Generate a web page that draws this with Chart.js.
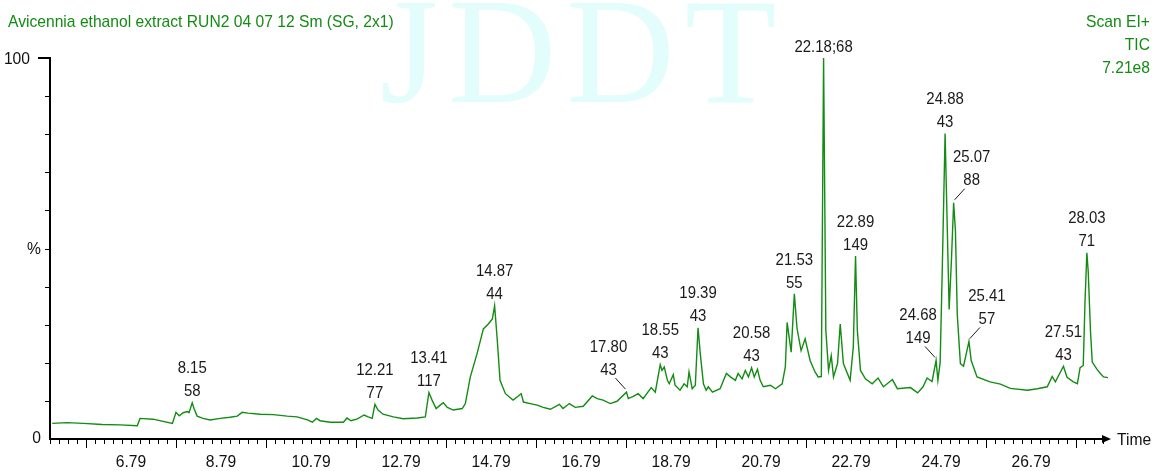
<!DOCTYPE html>
<html>
<head>
<meta charset="utf-8">
<script src="https://cdn.jsdelivr.net/npm/chart.js@4/dist/chart.umd.min.js"></script>
<style>
html,body{margin:0;padding:0;background:#fff;}
#divid{width:1152px;height:471px;position:relative;}
</style>
</head>
<body>
<div id="divid"><canvas id="chart" width="1152" height="471"></canvas></div>
<script>
const titulo = "Avicennia ethanol extract RUN2 04 07 12 Sm (SG, 2x1)"
const infoDerecha = ["Scan EI+", "TIC", "7.21e8"]
const marcaAgua = "JDDT"
const ejeX = "Time"

// TIC trace (time in min, intensity in %)
const tiempos = [5.04,5.37,5.73,6.15,6.55,6.93,6.99,7.28,7.71,7.79,
  7.86,7.95,8.04,8.08,8.15,8.19,8.26,8.39,8.55,8.77,
  8.99,9.15,9.26,9.39,9.66,9.95,10.26,10.48,10.71,10.82,
  10.91,10.99,11.22,11.51,11.59,11.68,11.82,11.97,12.06,12.15,
  12.21,12.28,12.39,12.62,12.84,13.15,13.33,13.41,13.48,13.57,
  13.66,13.73,13.82,13.95,14.15,14.22,14.33,14.48,14.62,14.73,
  14.82,14.87,14.93,14.99,15.11,15.28,15.39,15.46,15.51,15.66,
  15.82,15.95,16.11,16.31,16.39,16.53,16.66,16.84,17.04,17.15,
  17.28,17.44,17.59,17.80,17.84,17.95,18.06,18.17,18.35,18.44,
  18.55,18.59,18.64,18.71,18.75,18.84,18.88,18.99,19.08,19.15,
  19.19,19.26,19.33,19.39,19.44,19.51,19.57,19.62,19.71,19.88,
  20.02,20.11,20.22,20.28,20.37,20.44,20.51,20.58,20.64,20.71,
  20.77,20.84,21.00,21.11,21.26,21.33,21.37,21.46,21.53,21.59,
  21.68,21.77,21.88,21.99,22.06,22.13,22.18,22.23,22.29,22.35,
  22.40,22.49,22.55,22.62,22.77,22.84,22.89,22.93,23.00,23.11,
  23.26,23.39,23.51,23.71,23.82,24.11,24.27,24.39,24.48,24.59,
  24.68,24.72,24.77,24.82,24.88,24.93,24.97,25.02,25.07,25.11,
  25.15,25.22,25.29,25.41,25.46,25.59,25.88,26.11,26.33,26.71,
  26.93,27.15,27.26,27.33,27.51,27.59,27.73,27.82,27.88,27.95,
  27.99,28.03,28.06,28.11,28.15,28.26,28.33,28.40,28.55]
const intensidad = [4.1,4.3,4.1,3.8,3.7,3.5,5.4,5.2,4.1,7.0,
  6.1,6.9,7.2,6.9,9.5,8.0,6.0,5.4,5.0,5.4,
  5.7,6.0,7.0,6.8,6.5,6.4,6.0,5.8,5.0,4.4,
  5.4,4.8,4.4,4.4,5.5,4.8,5.3,6.3,5.8,5.4,
  9.1,7.6,6.5,5.8,5.3,5.5,5.8,12.2,10.2,8.0,
  8.9,9.5,8.3,7.6,8.0,9.3,16.3,22.4,28.9,30.2,
  31.5,35.0,25.8,15.4,11.9,10.2,11.2,11.9,9.7,9.3,
  8.9,8.3,7.8,9.1,8.0,9.3,8.3,8.6,11.3,10.6,
  10.2,9.3,9.9,12.3,10.6,11.2,11.9,10.6,13.5,12.3,
  19.5,18.0,18.9,15.4,14.5,16.9,14.1,12.8,14.5,13.7,
  17.6,13.2,14.1,29.2,22.4,14.5,12.8,13.7,12.3,13.2,
  17.2,16.3,15.4,17.2,15.8,18.0,16.3,18.7,16.3,18.3,
  15.4,13.7,14.1,13.2,14.5,18.9,30.6,22.8,38.1,29.0,
  23.2,26.3,20.6,17.6,16.3,16.4,100,28.5,18.0,21.9,
  16.3,19.8,30.2,19.8,15.4,24.1,48.0,28.5,18.0,15.8,
  14.5,16.0,13.7,15.6,13.2,13.5,12.1,13.7,16.0,15.1,
  20.6,15.4,20.1,46.0,80.2,54.6,34.0,46.7,62.0,54.6,
  32.8,19.8,19.1,25.6,20.6,16.3,15.0,14.4,13.3,12.8,
  13.2,13.7,16.4,15.0,19.1,16.2,15.0,14.5,18.7,19.3,
  36.3,48.9,44.1,28.5,20.2,18.2,17.2,16.3,16.0]

// labelled peaks: retention time and base peak mass
const picosTiempo = [8.15,12.21,13.41,14.87,17.80,18.55,19.39,20.58,21.53,22.18,22.89,24.68,24.88,25.07,25.41,27.51,28.03]
const picosMasa = ["58","77","117","44","43","43","43","43","55","68","149","149","43","88","57","43","71"]
// 0 = above, -1 = left with leader, 1 = right with leader, 2 = one line "t;m"
const picosLado = [0,0,0,0,-1,0,0,0,0,2,0,-1,0,1,1,0,0]

const xEtiquetas = [6.79,8.79,10.79,12.79,14.79,16.79,18.79,20.79,22.79,24.79,26.79]
const yEtiquetas = [0,50,100]
const yTextos = ["0","%","100"]

const verde = "#138c13"
const fuente = "'Liberation Sans', Arial, sans-serif"

var puntos = tiempos.map((t,i)=>({x:t, y:intensidad[i]}))

// text is a bit taller than wide in the original, squeeze it horizontally
texto=(ctx,s,x,y,size,sx,align)=>{
    ctx.save()
    ctx.translate(x,y)
    ctx.scale(sx,1)
    ctx.font = size+"px "+fuente
    ctx.textAlign = align
    ctx.textBaseline = "middle"
    ctx.fillText(s,0,0)
    ctx.restore()
}

const decorado = {
    id:'decorado',
    beforeDraw(chart){
        var ctx = chart.ctx
        ctx.save()
        ctx.fillStyle = "#e3fcfc"
        ctx.font = "150px 'Liberation Serif', 'Times New Roman', serif"
        ctx.letterSpacing = "10px"
        ctx.textAlign = "center"
        ctx.textBaseline = "alphabetic"
        ctx.fillText(marcaAgua, 583, 102)
        ctx.restore()
    },
    afterDatasetsDraw(chart){
        var ctx = chart.ctx
        var xs = chart.scales.x, ys = chart.scales.y
        var area = chart.chartArea
        ctx.save()
        // titles
        ctx.fillStyle = verde
        texto(ctx, titulo, 8, 22, 17, 0.92, "left")
        infoDerecha.forEach((s,i)=>texto(ctx, s, 1150, 22 + i*23, 17, 0.92, "right"))

        // axes
        ctx.strokeStyle = "#000"
        ctx.fillStyle = "#000"
        ctx.lineWidth = 2
        var y0 = ys.getPixelForValue(0), y100 = ys.getPixelForValue(100)
        var xl = area.left
        ctx.beginPath()
        ctx.moveTo(xl-12, y100); ctx.lineTo(xl, y100); ctx.lineTo(xl, y0)
        ctx.lineTo(area.right-4, y0)
        ctx.stroke()
        ctx.beginPath()
        ctx.moveTo(area.right+3, y0); ctx.lineTo(area.right-6, y0-4); ctx.lineTo(area.right-6, y0+4)
        ctx.closePath(); ctx.fill()
        ctx.lineWidth = 1
        ctx.beginPath()
        for(var p=10;p<100;p+=10){
            var yy = Math.round(ys.getPixelForValue(p))+0.5
            ctx.moveTo(xl-5, yy); ctx.lineTo(xl, yy)
        }
        for(var k=0;k<=118;k++){
            var t = 4.99 + k*0.2
            if(t > xs.max-0.05) break
            var xx = Math.round(xs.getPixelForValue(t))+0.5
            var largo = (k % 10 == 4) ? 9 : 5
            ctx.moveTo(xx, y0); ctx.lineTo(xx, y0+largo)
        }
        ctx.stroke()

        // tick labels, placed through the scales
        ctx.fillStyle = "#111"
        xEtiquetas.forEach(v=>texto(ctx, v.toFixed(2), xs.getPixelForValue(v), y0+23, 17, 0.92, "center"))
        yEtiquetas.forEach((v,i)=>{
            var derecha = (v==100) ? xl-20 : xl-9
            texto(ctx, yTextos[i], derecha, ys.getPixelForValue(v)+(v==0?-1:1), 17, 0.92, "right")
        })
        texto(ctx, ejeX, area.right+9, y0+1, 17, 0.92, "left")

        // peak labels
        ctx.fillStyle = "#1a1a1a"
        ctx.strokeStyle = "#1a1a1a"
        picosTiempo.forEach((tp,i)=>{
            var alto = 0
            tiempos.forEach((t,j)=>{ if(Math.abs(t-tp)<0.035 && intensidad[j]>alto) alto = intensidad[j] })
            var px = xs.getPixelForValue(tp), py = ys.getPixelForValue(alto)
            var lado = picosLado[i]
            if(lado==2){
                texto(ctx, tp.toFixed(2)+";"+picosMasa[i], px, py-11, 17, 0.88, "center")
            }else if(lado==0){
                texto(ctx, tp.toFixed(2), px, py-34, 17, 0.88, "center")
                texto(ctx, picosMasa[i], px, py-11, 17, 0.88, "center")
            }else{
                var cx = px + lado*18
                texto(ctx, tp.toFixed(2), cx, py-45, 17, 0.88, "center")
                texto(ctx, picosMasa[i], cx, py-22, 17, 0.88, "center")
                ctx.beginPath()
                ctx.moveTo(px+lado*11, py-14); ctx.lineTo(px+lado*1, py-3)
                ctx.stroke()
            }
        })
        ctx.restore()
    }
}

var ctx = document.getElementById('chart').getContext('2d')
var myChart = new Chart(ctx, {
    type: 'line',
    data: {
        datasets: [{
            data: puntos,
            borderColor: verde,
            borderWidth: 1.4,
            pointRadius: 0,
            tension: 0,
            fill: false
        }]
    },
    options: {
        responsive: false,
        animation: false,
        devicePixelRatio: 1,
        layout: { padding: { top: 58, right: 44, left: 0, bottom: 0 } },
        plugins: { legend: { display: false }, tooltip: { enabled: false } },
        scales: {
            x: {
                type: 'linear', min: 4.99, max: 28.5,
                grid: { display: false, drawTicks: false },
                border: { display: false },
                afterBuildTicks: s => { s.ticks = xEtiquetas.map(v => ({ value: v })) },
                afterFit: s => { s.height = 32 },
                ticks: { display: false }
            },
            y: {
                min: 0, max: 100,
                grid: { display: false, drawTicks: false },
                border: { display: false },
                afterBuildTicks: s => { s.ticks = yEtiquetas.map(v => ({ value: v })) },
                afterFit: s => { s.width = 50 },
                ticks: { display: false }
            }
        }
    },
    plugins: [decorado]
})
</script>
</body>
</html>
